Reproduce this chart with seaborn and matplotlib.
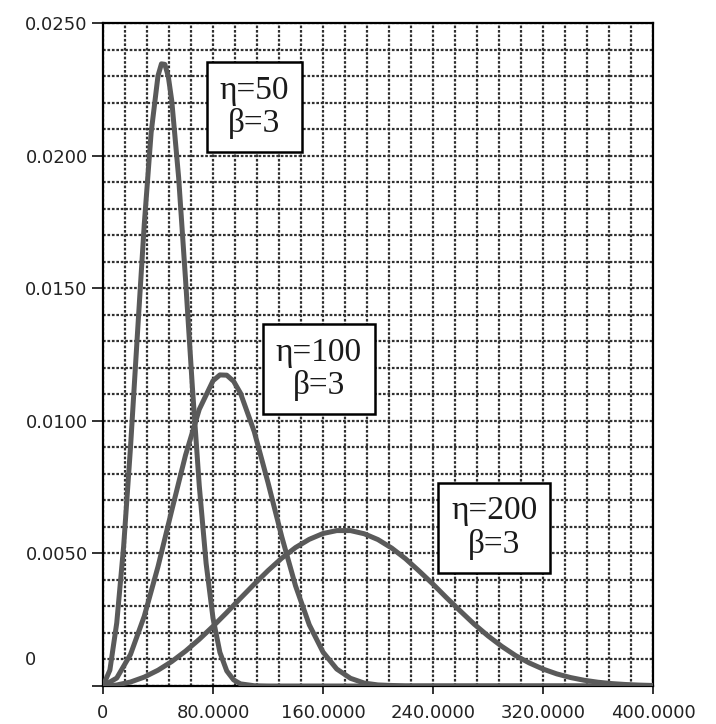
import numpy as np
import pandas as pd
import matplotlib
matplotlib.use("Agg")
import matplotlib.pyplot as plt
from matplotlib.ticker import MultipleLocator, FixedLocator
import seaborn as sns

# ---- data ----
x_eta50 = [0, 5, 10, 15, 20, 25, 30, 35, 40, 42.5, 45, 47.5, 50, 55, 60, 65, 70, 75, 80,
           85, 90, 95, 100, 110, 120, 160, 200, 240, 280, 320, 360, 400]
y_eta50 = [0, 0.0006, 0.00238, 0.00526, 0.00900, 0.01324, 0.01740, 0.02086, 0.02301,
           0.02346, 0.02344, 0.02298, 0.02207, 0.01918, 0.01535, 0.01127, 0.00756,
           0.00462, 0.00256, 0.00127, 0.00057, 0.00023, 0.00008, 0.00001, 0, 0, 0,
           0, 0, 0, 0, 0]

x_eta100 = [0, 10, 20, 30, 40, 50, 60, 70, 80, 85, 90, 95, 100, 110, 120, 130, 140,
            150, 160, 170, 180, 190, 200, 220, 240, 280, 320, 360, 400]
y_eta100 = [0, 0.0003, 0.00119, 0.00263, 0.00450, 0.00662, 0.00870, 0.01043, 0.01151,
            0.01173, 0.01172, 0.01149, 0.01104, 0.00959, 0.00767, 0.00563, 0.00378,
            0.00231, 0.00128, 0.00064, 0.00029, 0.00011, 0.00004, 0, 0, 0, 0, 0, 0]

x_eta200 = [0, 10, 20, 30, 40, 50, 60, 70, 80, 90, 100, 110, 120, 130, 140, 150, 160,
            170, 180, 190, 200, 210, 220, 230, 240, 250, 260, 270, 280, 290, 300, 310,
            320, 330, 340, 350, 360, 370, 380, 390, 400]
y_eta200 = [0, 0.0000375, 0.00015, 0.000336, 0.000595, 0.000923, 0.001314, 0.00176,
            0.00225, 0.00277, 0.00331, 0.00384, 0.00435, 0.00482, 0.00522, 0.00553,
            0.00575, 0.00586, 0.00586, 0.00574, 0.00552, 0.00520, 0.00480, 0.00433,
            0.00384, 0.00332, 0.00282, 0.00233, 0.00189, 0.001496, 0.00115, 0.00087,
            0.000639, 0.000457, 0.000319, 0.000216, 0.000142, 0.000091, 0.0000569,
            0.0000343, 0.0000201]

series_names = ["η=50", "η=100", "η=200"]
box_labels = ["η=50\nβ=3", "η=100\nβ=3", "η=200\nβ=3"]

x_ticks = [0, 80, 160, 240, 320, 400]
x_tick_labels = ["0", "80.0000", "160.0000", "240.0000", "320.0000", "400.0000"]
y_ticks = [0, 0.005, 0.010, 0.015, 0.020, 0.025]
y_tick_labels = ["", "0.0050", "0.0100", "0.0150", "0.0200", "0.0250"]
y_zero_label = "0"

# ---- build long table ----
frames = []
for name, xs, ys in zip(series_names, [x_eta50, x_eta100, x_eta200],
                        [y_eta50, y_eta100, y_eta200]):
    frames.append(pd.DataFrame({"x": xs, "y": ys, "series": name}))
df = pd.concat(frames, ignore_index=True)

sns.set_style("white")
plt.rcParams["font.family"] = ["DejaVu Sans"]

fig = plt.figure(figsize=(7.16, 7.24), dpi=100)
ax = fig.add_axes([103 / 716, 1 - 686 / 724, 550 / 716, 663 / 724])

curve_color = "#5a5a5a"
sns.lineplot(data=df, x="x", y="y", hue="series", units="series", estimator=None,
             palette={n: curve_color for n in series_names}, linewidth=3.6,
             legend=False, ax=ax, zorder=3)

ax.set_xlim(0, 400)
ax.set_ylim(0, 0.025)

ax.xaxis.set_major_locator(FixedLocator(x_ticks))
ax.yaxis.set_major_locator(FixedLocator(y_ticks))
ax.set_xticklabels(x_tick_labels)
ax.set_yticklabels(y_tick_labels)
ax.xaxis.set_minor_locator(MultipleLocator(16))
ax.yaxis.set_minor_locator(MultipleLocator(0.001))

grid_kw = dict(color="#303030", linestyle=(0, (1.2, 0.8)), linewidth=1.6)
ax.grid(True, which="both", axis="both", **grid_kw)
ax.set_axisbelow(True)

tick_fs = 13
ax.tick_params(which="minor", length=0)
ax.tick_params(axis="y", which="major", direction="out", length=8, width=1.3,
               pad=3, labelsize=tick_fs, colors="#222222", left=True)
ax.tick_params(axis="x", which="major", direction="out", length=6, width=1.3,
               pad=7, labelsize=tick_fs, colors="#222222", bottom=True)

for sp in ax.spines.values():
    sp.set_visible(True)
    sp.set_color("black")
    sp.set_linewidth(1.6)

ax.set_xlabel("")
ax.set_ylabel("")

# label boxes
box_pos = [(110, 0.02183), (157, 0.01195), (284.5, 0.00596)]
for lbl, (bx, by) in zip(box_labels, box_pos):
    ax.text(bx, by, lbl, ha="center", va="center", fontsize=24,
            family=["Liberation Serif", "DejaVu Serif"], linespacing=1.1,
            color="#1a1a1a", zorder=5,
            bbox=dict(boxstyle="square,pad=0.38", fc="white", ec="black", lw=1.8))

# the scanned "0" y label sits above the axis
fig.text(25 / 716, 1 - 660 / 724, y_zero_label, ha="left", va="center",
         fontsize=tick_fs, color="#222222")

fig.savefig("out.png", dpi=100)
